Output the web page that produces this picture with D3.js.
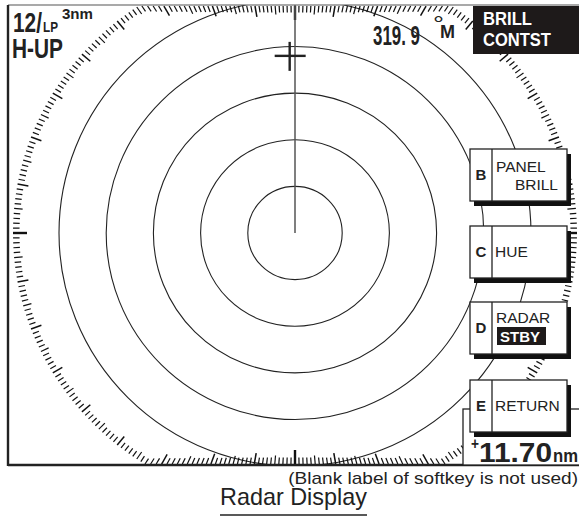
<!DOCTYPE html>
<html>
<head>
<meta charset="utf-8">
<script src="https://cdn.jsdelivr.net/npm/d3@7"></script>
<style>
  body { margin: 0; background: #fff; }
  svg { display: block; font-family: "Liberation Sans", Arial, sans-serif; }
</style>
</head>
<body>
<div id="chart"></div>
<script>
// ---- data ----
const rangeScaleNm = 3;
const ringRanges = [0.5, 1, 1.5, 2, 2.5];
const headingBearing = 0;
const cursorPoint = { bearing: 358.3, range: 1.9 };
const softkeys = [
    { key: "B", lines: ["PANEL", "BRILL"] },
    { key: "C", lines: ["HUE"] },
    { key: "D", lines: ["RADAR", "STBY"] },
    { key: "E", lines: ["RETURN"] }
];
const headingText = "319. 9";
const rangeReadout = "11.70";
const footNote = "(Blank label of softkey is not used)";
const caption = "Radar Display";

// ---- layout ----
const W = 579, H = 531, cx = 295, cy = 233;
const frameBox = { left: 8, top: 5, bottom: 465 };
const yAspect = 0.988;

const svg = d3.select("#chart").append("svg")
    .attr("width", W).attr("height", H);

const rScale = d3.scaleLinear().domain([0, 2.5]).range([0, 236]);

// range rings
svg.append("g").attr("class", "rings")
    .selectAll("ellipse")
    .data(ringRanges)
    .enter().append("ellipse")
    .attr("cx", cx).attr("cy", cy)
    .attr("rx", d => rScale(d))
    .attr("ry", d => rScale(d) * yAspect)
    .attr("fill", "none")
    .attr("stroke", "#222")
    .attr("stroke-width", 1.1);

// mask ring overflow outside the screen
svg.append("rect").attr("x", 0).attr("y", 0).attr("width", W).attr("height", frameBox.top)
    .attr("fill", "#fff");
svg.append("rect").attr("x", 0).attr("y", frameBox.bottom).attr("width", W)
    .attr("height", H - frameBox.bottom).attr("fill", "#fff");

// bearing scale: circle squashed into the screen rectangle
const scaleRx = 282, scaleRy = 273;
const edge = { top: 6, bottom: 464, left: 12, right: 579 };
function edgeDist(deg) {
    const a = deg * Math.PI / 180;
    const s = Math.sin(a), c = Math.cos(a);
    let t = 1 / Math.sqrt((s / scaleRx) ** 2 + (c / scaleRy) ** 2);
    if (c > 1e-6) t = Math.min(t, (cy - edge.top) / c);
    if (c < -1e-6) t = Math.min(t, (edge.bottom - cy) / -c);
    if (s < -1e-6) t = Math.min(t, (cx - edge.left) / -s);
    if (s > 1e-6) t = Math.min(t, (edge.right - cx) / s);
    return t;
}
const tickLen = d => d % 90 === 0 ? 14 : d % 10 === 0 ? 11 : d % 5 === 0 ? 8.5 : 6.5;
const bearingTicks = d3.range(0, 360, 1).map(d => {
    const a = d * Math.PI / 180, t = edgeDist(d), l = tickLen(d);
    return { d, x1: cx + Math.sin(a) * t, y1: cy - Math.cos(a) * t,
             x2: cx + Math.sin(a) * (t - l), y2: cy - Math.cos(a) * (t - l) };
});
svg.append("g").attr("class", "bearing-scale")
    .selectAll("line").data(bearingTicks).enter().append("line")
    .attr("x1", p => p.x1).attr("y1", p => p.y1)
    .attr("x2", p => p.x2).attr("y2", p => p.y2)
    .attr("stroke", "#111")
    .attr("stroke-width", p => p.d % 90 === 0 ? 2.4 : p.d % 10 === 0 ? 1.5 : 1.2);

// heading line
const hA = headingBearing * Math.PI / 180;
const hT = edgeDist(headingBearing) + 1;
svg.append("line")
    .attr("x1", cx).attr("y1", cy)
    .attr("x2", cx + Math.sin(hA) * hT)
    .attr("y2", cy - Math.cos(hA) * hT)
    .attr("stroke", "#555")
    .attr("stroke-width", 1.5);

// cursor
const cA = cursorPoint.bearing * Math.PI / 180;
const curX = cx + Math.sin(cA) * rScale(cursorPoint.range);
const curY = cy - Math.cos(cA) * rScale(cursorPoint.range) * yAspect;
svg.append("line")
    .attr("x1", curX - 15).attr("x2", curX + 16)
    .attr("y1", curY).attr("y2", curY)
    .attr("stroke", "#222").attr("stroke-width", 2.4);
svg.append("line")
    .attr("x1", curX).attr("x2", curX)
    .attr("y1", curY - 14).attr("y2", curY + 15)
    .attr("stroke", "#222").attr("stroke-width", 2.4);

// frame edges
svg.append("line").attr("x1", frameBox.left).attr("x2", W)
    .attr("y1", frameBox.top).attr("y2", frameBox.top)
    .attr("stroke", "#555").attr("stroke-width", 1.2);
svg.append("line").attr("x1", frameBox.left).attr("x2", frameBox.left)
    .attr("y1", frameBox.top).attr("y2", frameBox.bottom + 1)
    .attr("stroke", "#222").attr("stroke-width", 2.4);
svg.append("line").attr("x1", frameBox.left).attr("x2", W)
    .attr("y1", frameBox.bottom).attr("y2", frameBox.bottom)
    .attr("stroke", "#222").attr("stroke-width", 2.4);

// text helper; when width is given the glyphs are squeezed/stretched to fit it
function label(g, str, x, y, size, weight, width, fill, anchor) {
    const t = g.append("text")
        .attr("transform", `translate(${x},${y})`)
        .style("font-size", size + "px")
        .style("font-weight", weight)
        .style("fill", fill || "#222")
        .style("text-anchor", anchor || "start")
        .text(str);
    if (width) {
        const sx = width / t.node().getComputedTextLength();
        t.attr("transform", `translate(${x},${y}) scale(${sx},1)`);
    }
    return t;
}

// top-left readout
label(svg, "12/", 13, 32, 28, "bold", 29);
label(svg, "LP", 43, 32, 14, "bold", 15);
label(svg, rangeScaleNm + "nm", 62, 19, 14, "bold", 31);
label(svg, "H-UP", 12, 58, 27, "bold", 51);

// heading readout
label(svg, headingText, 373, 45, 28, "bold", 47);
label(svg, "°", 433, 31, 20, "normal", 11);
label(svg, "M", 440, 38, 18, "bold", 15);

// BRILL / CONTST box
svg.append("rect").attr("x", 473).attr("y", 6)
    .attr("width", W - 473).attr("height", 48)
    .attr("fill", "#1e1a1a");
label(svg, "BRILL", 483, 25, 18, "bold", 49, "#fff");
label(svg, "CONTST", 483, 46, 18, "bold", 68, "#fff");

// range readout box
svg.append("rect").attr("x", 463).attr("y", 409)
    .attr("width", 130).attr("height", 56)
    .attr("fill", "#fff").attr("stroke", "#222").attr("stroke-width", 1.3);
label(svg, "+", 471, 449, 16, "bold", 8);
label(svg, rangeReadout, 479, 462, 27, "bold", 73);
label(svg, "nm", 553, 462, 18, "bold", 25);

// softkeys
const keyTops = [149, 226, 302, 380];
const keyW = 97, keyH = 52, keyX = 470, divX = 22;
softkeys.forEach((k, i) => {
    const g = svg.append("g").attr("transform", `translate(${keyX},${keyTops[i]})`);
    g.append("rect").attr("x", 4).attr("y", 5).attr("width", keyW).attr("height", keyH)
        .attr("fill", "#111");
    g.append("rect").attr("x", 0).attr("y", 0).attr("width", keyW).attr("height", keyH)
        .attr("fill", "#fff").attr("stroke", "#222").attr("stroke-width", 1.3);
    g.append("line").attr("x1", divX).attr("x2", divX).attr("y1", 0).attr("y2", keyH)
        .attr("stroke", "#222").attr("stroke-width", 1.3);
    label(g, k.key, 11, 31, 15, "bold", null, "#222", "middle");
    if (k.key === "B") {
        label(g, k.lines[0], 26, 23, 15.5, "normal");
        label(g, k.lines[1], 88, 41, 15.5, "normal", null, "#222", "end");
    } else if (k.key === "D") {
        label(g, k.lines[0], 26, 21, 15.5, "normal");
        g.append("rect").attr("x", 27).attr("y", 25).attr("width", 49).attr("height", 18)
            .attr("fill", "#1e1a1a");
        label(g, k.lines[1], 30, 40, 15.5, "bold", 40, "#fff");
    } else {
        label(g, k.lines[0], 25, 31, 15.5, "normal");
    }
});

// captions
label(svg, footNote, 578, 484, 17, "normal", 290, "#222", "end");
label(svg, caption, 220, 505, 23, "normal", 147);
svg.append("line").attr("x1", 220).attr("x2", 367)
    .attr("y1", 515).attr("y2", 515)
    .attr("stroke", "#222").attr("stroke-width", 1.5);
</script>
</body>
</html>
